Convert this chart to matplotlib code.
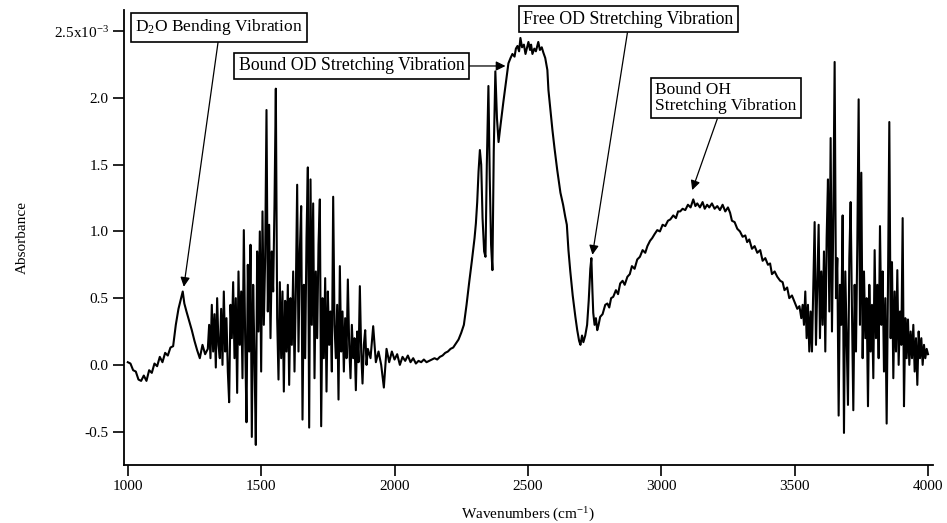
import numpy as np
import matplotlib
matplotlib.use("Agg")
import matplotlib.pyplot as plt

plt.rcParams["font.family"] = ["Liberation Serif", "DejaVu Serif"]
plt.rcParams["mathtext.fontset"] = "custom"
plt.rcParams["mathtext.rm"] = "Liberation Serif"
plt.rcParams["mathtext.it"] = "Liberation Serif:italic"

# low-frequency edge + D2O bend (irregular spacing)
wn_bend = [1000, 1010, 1020, 1030, 1040, 1050, 1060, 1070, 1080, 1090, 1100,
           1110, 1120, 1130, 1140, 1150, 1160, 1170, 1180, 1190, 1200, 1206,
           1212, 1220, 1230, 1240, 1250, 1260, 1270, 1280, 1290]
abs_bend = [0.02, 0.01, -0.04, -0.05, -0.11, -0.12, -0.08, -0.12, -0.04, -0.06, 0.01,
            -0.01, 0.06, 0.02, 0.09, 0.07, 0.13, 0.14, 0.30, 0.42, 0.50, 0.55,
            0.46, 0.40, 0.33, 0.26, 0.18, 0.11, 0.05, 0.15, 0.08]

# noisy water-vapour band, 1300-1900 every 5 cm-1
wn_vap1 = np.arange(1300, 1901, 5)
abs_vap1 = [0.12, 0.30, 0.05, 0.45, 0.10, 0.38, -0.02, 0.50, 0.15, 0.05,
            0.42, 0.00, 0.55, 0.10, 0.35, -0.05, -0.28, 0.45, 0.20, 0.62,
            0.05, 0.50, -0.21, 0.70, 0.15, 0.55, -0.10, 1.01, 0.20, -0.43,
            0.75, 0.10, 0.90, -0.54, 0.60, 0.05, -0.60, 0.85, 0.25, 1.00,
            -0.05, 1.15, 0.30, 0.80, 1.91, 0.40, 1.05, 0.20, 0.85, 0.55,
            1.20, 2.07, 0.35, -0.11, 0.62, 0.05, 0.55, -0.20, 0.48, 0.10,
            0.60, -0.15, 0.50, 0.15, 0.70, -0.05, 0.55, 1.35, 0.10, 0.85,
            1.19, -0.41, 0.60, 0.05, 0.95, 1.48, -0.47, 1.39, 0.30, 1.21,
            -0.10, 0.70, 0.20, 0.90, 1.24, -0.46, 0.50, 0.05, 0.65, -0.20,
            0.55, 0.15, 0.40, -0.05, 1.26, 0.30, 0.05, 0.45, -0.26, 0.74,
            0.10, 0.40, -0.05, 0.35, 0.05, 0.64, 0.15, -0.10, 0.30, 0.05,
            0.20, -0.19, 0.25, 0.02, 0.59, 0.10, -0.14, 0.15, 0.26, 0.00,
            0.12]

# flat baseline, 1910-2210 every 10 cm-1
wn_base = np.arange(1910, 2211, 10)
abs_base = [0.05, 0.29, 0.02, 0.10, 0.00, -0.17, 0.12, 0.02, 0.10, 0.04,
            0.08, 0.00, 0.06, 0.03, 0.07, 0.02, 0.05, 0.01, 0.03, 0.02,
            0.04, 0.02, 0.03, 0.04, 0.05, 0.04, 0.06, 0.07, 0.09, 0.10,
            0.12]

# OD stretch, free OD and OH stretch
wn_str = [2220, 2230, 2240, 2250, 2260, 2270, 2280, 2290, 2300, 2305, 2310,
          2315, 2320, 2325, 2330, 2336, 2341, 2346, 2352, 2357, 2362, 2367,
          2372, 2378, 2384, 2390, 2397, 2408, 2418, 2427, 2435, 2442, 2450,
          2455, 2461, 2467, 2472, 2478, 2485, 2491, 2497, 2502, 2508, 2512,
          2517, 2524, 2530, 2539, 2545, 2552, 2558, 2565, 2573, 2577, 2585,
          2592, 2600, 2610, 2622, 2632, 2640, 2646, 2652, 2659, 2668, 2678,
          2685, 2692, 2697, 2703, 2708, 2715, 2722, 2728, 2734, 2738, 2742,
          2745, 2750, 2755, 2760, 2765, 2771, 2780, 2790, 2798, 2805, 2812,
          2820, 2830, 2838, 2846, 2855, 2863, 2873, 2882, 2890, 2900, 2910,
          2920, 2930, 2940, 2948, 2958, 2966, 2975, 2985, 2995, 3005, 3015,
          3025, 3034, 3045, 3055, 3063, 3071, 3080, 3090, 3100, 3110, 3120,
          3128, 3135, 3145, 3155, 3163, 3172, 3180, 3190, 3200, 3210, 3220,
          3230, 3240, 3250, 3258, 3265, 3275, 3285, 3295, 3305, 3315, 3322,
          3330, 3340, 3350, 3360, 3371, 3380, 3390, 3400, 3408, 3415, 3425,
          3435, 3446, 3455, 3462, 3472, 3480, 3490, 3502, 3510, 3518, 3525]
abs_str = [0.13, 0.16, 0.19, 0.24, 0.30, 0.45, 0.62, 0.78, 0.95, 1.06, 1.22,
           1.45, 1.61, 1.50, 1.10, 0.85, 0.81, 1.50, 2.09, 1.40, 0.90, 0.71,
           1.60, 2.20, 1.85, 1.67, 1.79, 1.97, 2.12, 2.26, 2.30, 2.33, 2.31,
           2.37, 2.39, 2.35, 2.45, 2.38, 2.40, 2.33, 2.38, 2.42, 2.36, 2.40,
           2.33, 2.37, 2.35, 2.42, 2.36, 2.38, 2.34, 2.30, 2.21, 2.06, 1.90,
           1.76, 1.62, 1.46, 1.29, 1.20, 1.11, 1.05, 0.86, 0.70, 0.52, 0.36,
           0.26, 0.18, 0.15, 0.22, 0.17, 0.22, 0.30, 0.48, 0.72, 0.80, 0.55,
           0.39, 0.30, 0.35, 0.26, 0.30, 0.36, 0.38, 0.45, 0.46, 0.43, 0.50,
           0.51, 0.56, 0.53, 0.61, 0.63, 0.60, 0.66, 0.68, 0.74, 0.72, 0.79,
           0.81, 0.86, 0.84, 0.89, 0.93, 0.95, 0.98, 1.01, 1.00, 1.05, 1.04,
           1.08, 1.09, 1.12, 1.10, 1.15, 1.15, 1.17, 1.16, 1.20, 1.18, 1.24,
           1.19, 1.21, 1.18, 1.22, 1.17, 1.20, 1.18, 1.21, 1.17, 1.19, 1.16,
           1.20, 1.15, 1.18, 1.14, 1.08, 1.07, 1.02, 1.00, 0.96, 0.97, 0.92,
           0.94, 0.87, 0.89, 0.84, 0.86, 0.78, 0.80, 0.75, 0.76, 0.68, 0.70,
           0.66, 0.63, 0.62, 0.56, 0.58, 0.50, 0.52, 0.46, 0.42, 0.44, 0.35]

# noisy band at high wavenumber, 3530-4000 every 5 cm-1
wn_vap2 = np.arange(3530, 4001, 5)
abs_vap2 = [0.45, 0.30, 0.55, 0.20, 0.45, 0.10, 0.40, 0.10, 0.60, 1.07,
            0.15, 0.60, 1.05, 0.20, 0.70, 0.30, 0.85, 0.10, 0.95, 1.39,
            0.40, 1.70, 0.25, 1.10, 2.27, 0.50, 0.80, -0.38, 0.60, 0.30,
            1.12, -0.51, 0.70, 0.20, -0.30, 0.80, 1.22, 0.40, -0.34, 0.60,
            0.10, 0.90, 1.99, 0.30, 1.44, 0.05, 0.70, 0.20, 0.50, -0.31,
            0.60, 0.10, 0.45, -0.10, 0.86, 0.20, 0.60, 0.05, 1.04, 0.30,
            0.70, -0.05, 0.50, -0.44, 0.60, 1.82, 0.20, 0.77, -0.10, 0.55,
            0.10, 0.71, 0.00, 0.40, 0.15, 1.10, -0.31, 0.35, 0.05, 0.34,
            0.00, 0.25, 0.05, 0.30, -0.05, 0.20, -0.15, 0.25, 0.05, 0.20,
            0.00, 0.15, 0.05, 0.12, 0.08]

wn = np.concatenate([wn_bend, wn_vap1, wn_base, wn_str, wn_vap2])
absorb = np.concatenate([abs_bend, abs_vap1, abs_base, abs_str, abs_vap2])

fig = plt.figure(figsize=(9.47, 5.23), dpi=100)
ax = fig.add_axes([0.131, 0.111, 0.854, 0.870])

ax.plot(wn, absorb, color="black", linewidth=1.5)

ax.set_xlim(986, 4018)
ax.set_ylim(-0.75, 2.66)

ax.set_xticks([1000, 1500, 2000, 2500, 3000, 3500, 4000])
ax.set_yticks([-0.5, 0.0, 0.5, 1.0, 1.5, 2.0, 2.5])
ax.set_yticklabels(["-0.5", "0.0", "0.5", "1.0", "1.5", "2.0",
                    "2.5x10$^{\\mathrm{-3}}$"])

for side in ["top", "right"]:
    ax.spines[side].set_visible(False)
for side in ["left", "bottom"]:
    ax.spines[side].set_linewidth(1.3)
ax.tick_params(direction="out", length=8, width=1.2, labelsize=11, pad=3)

ax.set_xlabel("Wavenumbers (cm$^{\\mathrm{-1}}$)", fontsize=11, labelpad=9)
ax.set_ylabel("Absorbance", fontsize=11, labelpad=18)

box = dict(boxstyle="square,pad=0.25", facecolor="white", edgecolor="black", linewidth=1.2)
arrow = dict(arrowstyle="-|>", color="black", lw=0.9, mutation_scale=14,
             shrinkA=0, shrinkB=0)

ax.annotate("D$_{\\mathrm{2}}$O Bending Vibration", xy=(1210, 0.585), xytext=(1341, 2.53),
            fontsize=12.5, ha="center", va="center", bbox=box,
            arrowprops=dict(arrow, relpos=(0.5, 0)))
ax.annotate("Bound OD Stretching Vibration", xy=(2416, 2.24), xytext=(1839, 2.24),
            fontsize=12.8, ha="center", va="center", bbox=box,
            arrowprops=dict(arrow, relpos=(1, 0.5)))
ax.annotate("Free OD Stretching Vibration", xy=(2742, 0.825), xytext=(2876, 2.59),
            fontsize=12.8, ha="center", va="center", bbox=box,
            arrowprops=dict(arrow, relpos=(0.5, 0)))
ax.annotate("Bound OH\nStretching Vibration", xy=(3116, 1.31), xytext=(3243, 2.0),
            fontsize=12.5, ha="center", va="center", multialignment="left",
            linespacing=1.0, bbox=box,
            arrowprops=dict(arrow, relpos=(0.45, 0)))

fig.savefig("out.png", dpi=100)
